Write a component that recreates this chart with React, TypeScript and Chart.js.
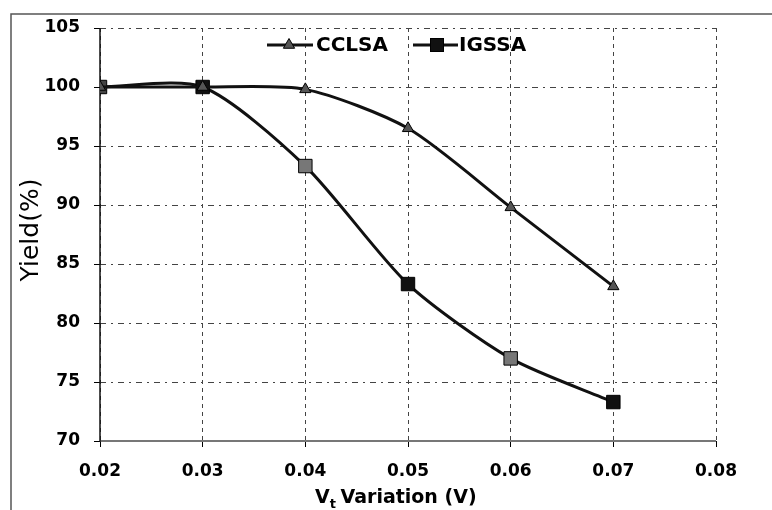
import React, { useEffect, useRef } from 'react';
import { Chart, registerables } from 'chart.js';

Chart.register(...registerables);

// ---- data ----
const X_VALUES = [0.02, 0.03, 0.04, 0.05, 0.06, 0.07];
const CCLSA = [100, 100, 99.8, 96.5, 89.8, 83.1];
const IGSSA = [100, 100, 93.3, 83.3, 77.0, 73.3];
const SERIES_NAMES = ['CCLSA', 'IGSSA'];
const X_TICKS = [0.02, 0.03, 0.04, 0.05, 0.06, 0.07, 0.08];
const Y_TICKS = [70, 75, 80, 85, 90, 95, 100, 105];
const Y_TITLE = 'Yield(%)';
const X_TITLE_MAIN = 'V';
const X_TITLE_SUB = 't';
const X_TITLE_REST = ' Variation (V)';

const FONT = '"DejaVu Sans", Verdana, sans-serif';

const decor = {
  id: 'decor',
  beforeDatasetsDraw(chart: any) {
    const ctx: CanvasRenderingContext2D = chart.ctx;
    const { left, right, top, bottom } = chart.chartArea;
    ctx.save();
    // bottom axis: solid grey
    ctx.strokeStyle = '#777';
    ctx.lineWidth = 2;
    ctx.beginPath();
    ctx.moveTo(left, bottom);
    ctx.lineTo(right, bottom);
    ctx.stroke();
    // left axis: solid dark
    ctx.strokeStyle = '#111';
    ctx.lineWidth = 1.5;
    ctx.beginPath();
    ctx.moveTo(left, top);
    ctx.lineTo(left, bottom + 1);
    ctx.stroke();
    ctx.restore();
  },
  afterDraw(chart: any) {
    const ctx: CanvasRenderingContext2D = chart.ctx;
    ctx.save();
    // outer frame (cropped at right/bottom)
    ctx.strokeStyle = '#555';
    ctx.lineWidth = 1.5;
    ctx.beginPath();
    ctx.moveTo(11, chart.height);
    ctx.lineTo(11, 14);
    ctx.lineTo(chart.width, 14);
    ctx.stroke();

    // y title
    ctx.save();
    ctx.translate(31, 230);
    ctx.rotate(-Math.PI / 2);
    ctx.fillStyle = '#000';
    ctx.font = `25px ${FONT}`;
    ctx.textAlign = 'center';
    ctx.textBaseline = 'middle';
    ctx.fillText(Y_TITLE, 0, 0);
    ctx.restore();

    // x title with subscript
    ctx.fillStyle = '#000';
    ctx.textAlign = 'left';
    ctx.textBaseline = 'alphabetic';
    let x = 315;
    const base = 503;
    ctx.font = `bold 19px ${FONT}`;
    ctx.fillText(X_TITLE_MAIN, x, base);
    x += ctx.measureText(X_TITLE_MAIN).width;
    ctx.font = `bold 13px ${FONT}`;
    ctx.fillText(X_TITLE_SUB, x, base + 5);
    x += ctx.measureText(X_TITLE_SUB).width - 2;
    ctx.font = `bold 19px ${FONT}`;
    ctx.fillText(X_TITLE_REST, x, base);

    // legend
    const ly = 45;
    ctx.strokeStyle = '#111';
    ctx.lineWidth = 3;
    ctx.beginPath();
    ctx.moveTo(267, ly);
    ctx.lineTo(313, ly);
    ctx.moveTo(413, ly);
    ctx.lineTo(458, ly);
    ctx.stroke();
    // triangle
    ctx.lineWidth = 1;
    ctx.fillStyle = '#555';
    ctx.strokeStyle = '#000';
    ctx.beginPath();
    const r = 6.5;
    ctx.moveTo(289, ly - r);
    ctx.lineTo(289 + r * 0.866, ly + r * 0.5);
    ctx.lineTo(289 - r * 0.866, ly + r * 0.5);
    ctx.closePath();
    ctx.fill();
    ctx.stroke();
    // square
    ctx.fillStyle = '#111';
    ctx.fillRect(437 - 6.5, ly - 6.5, 13, 13);
    ctx.strokeRect(437 - 6.5, ly - 6.5, 13, 13);

    ctx.fillStyle = '#000';
    ctx.font = `bold 20px ${FONT}`;
    ctx.textBaseline = 'middle';
    ctx.fillText(SERIES_NAMES[0], 316, ly + 1);
    ctx.fillText(SERIES_NAMES[1], 459, ly + 1);
    ctx.restore();
  },
};

export default function App() {
  const ref = useRef<HTMLCanvasElement | null>(null);

  useEffect(() => {
    if (!ref.current) return;
    const chart = new Chart(ref.current, {
      type: 'line',
      data: {
        datasets: [
          {
            label: SERIES_NAMES[0],
            data: X_VALUES.map((x, i) => ({ x, y: CCLSA[i] })),
            borderColor: '#111',
            borderWidth: 3,
            tension: 0.25,
            pointStyle: 'triangle',
            pointRadius: 6.5,
            pointBackgroundColor: '#555',
            pointBorderColor: '#000',
            pointBorderWidth: 1,
            fill: false,
          },
          {
            label: SERIES_NAMES[1],
            data: X_VALUES.map((x, i) => ({ x, y: IGSSA[i] })),
            borderColor: '#111',
            borderWidth: 3,
            tension: 0.25,
            pointStyle: 'rect',
            pointRadius: 9.5,
            pointBackgroundColor: ['#444', '#111', '#777', '#111', '#777', '#111'],
            pointBorderColor: '#000',
            pointBorderWidth: 1,
            fill: false,
          },
        ],
      },
      options: {
        responsive: false,
        animation: false,
        layout: { padding: { top: 28, right: 56, left: 0, bottom: 0 } },
        plugins: {
          legend: { display: false },
          tooltip: { enabled: false },
        },
        scales: {
          x: {
            type: 'linear',
            min: X_TICKS[0],
            max: X_TICKS[X_TICKS.length - 1],
            afterBuildTicks: (scale: any) => {
              scale.ticks = X_TICKS.map((v) => ({ value: v }));
            },
            afterFit: (scale: any) => {
              scale.height = 69;
            },
            ticks: {
              color: '#000',
              font: { family: FONT, size: 17, weight: 'bold' },
              padding: 14,
              maxRotation: 0,
              autoSkip: false,
              callback: (v: any) => Number(v).toFixed(2),
            },
            grid: {
              color: '#444',
              lineWidth: 1,
              tickLength: 6,
              tickColor: '#000',
              tickBorderDash: [],
            },
            border: { display: false, dash: [4, 4] },
          },
          y: {
            type: 'linear',
            min: Y_TICKS[0],
            max: Y_TICKS[Y_TICKS.length - 1],
            afterBuildTicks: (scale: any) => {
              scale.ticks = Y_TICKS.map((v) => ({ value: v }));
            },
            afterFit: (scale: any) => {
              scale.width = 100;
            },
            ticks: {
              color: '#000',
              font: { family: FONT, size: 17, weight: 'bold' },
              padding: 14,
              autoSkip: false,
            },
            grid: {
              color: '#444',
              lineWidth: 1,
              tickLength: 6,
              tickColor: '#000',
              tickBorderDash: [],
            },
            border: { display: false, dash: [6, 5, 2, 5] },
          },
        },
      },
      plugins: [decor],
    } as any);
    return () => chart.destroy();
  }, []);

  return (
    <div style={{ position: 'fixed', left: 0, top: 0, width: 772, height: 510, background: '#fff' }}>
      <canvas ref={ref} width={772} height={510} style={{ width: 772, height: 510, display: 'block' }} />
    </div>
  );
}
